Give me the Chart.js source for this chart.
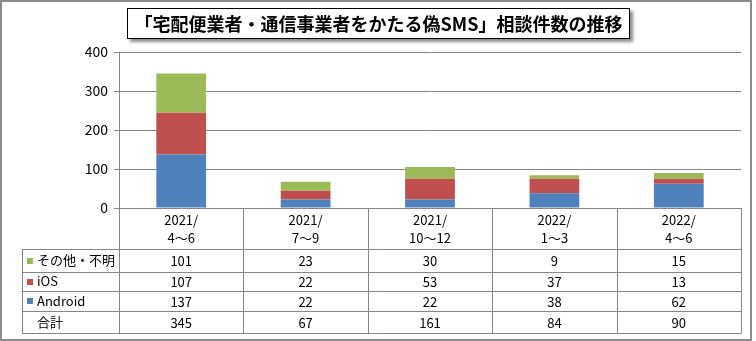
<!DOCTYPE html>
<html>
<head>
<meta charset="utf-8">
<script src="https://cdn.jsdelivr.net/npm/chart.js@4.4.0/dist/chart.umd.min.js"></script>
<style>
  html, body { margin: 0; padding: 0; background: #fff; }
  #wrap { position: relative; width: 756px; height: 341px; }
  #title {
    position: absolute; left: 127px; top: 8px; width: 501px; height: 29px;
    border: 1px solid #000; background: #fff;
    box-shadow: 3px 3px 3px rgba(0, 0, 0, 0.45);
    font: bold 18px "Noto Sans CJK JP", sans-serif;
    line-height: 29px; text-align: center; color: #000; white-space: nowrap;
  }
</style>
</head>
<body>
<div id="wrap">
  <canvas id="smsChart" width="756" height="341"></canvas>
  <div id="title">「宅配便業者・通信事業者をかたる偽SMS」相談件数の推移</div>
</div>
<script>
// 四半期ごとの相談件数
var categories = [["2021/", "4～6"], ["2021/", "7～9"], ["2021/", "10～12"], ["2022/", "1～3"], ["2022/", "4～6"]];
var android = [137, 22, 22, 38, 62];
var ios = [107, 22, 53, 37, 13];
var other = [101, 23, 30, 9, 15];
var totals = [345, 67, 161, 84, 90];
var yTicks = [0, 100, 200, 300, 400];

var FONT = '"Noto Sans CJK JP", sans-serif';
var LINE = '#868686';

// グラフ下のデータ表と外枠
var dataTable = {
    id: 'dataTable',
    afterDraw: function (chart) {
        var ctx = chart.ctx;
        var area = chart.chartArea;
        var xs = chart.scales.x;
        var n = categories.length;
        var colW = (area.right - area.left) / n;
        var top = area.bottom;
        var rows = [top + 41, top + 64, top + 83, top + 103, top + 125];
        var labelLeft = 22;

        ctx.save();
        ctx.strokeStyle = LINE;
        ctx.lineWidth = 1;
        ctx.beginPath();
        for (var i = 0; i <= n; i++) {
            var px = Math.round(area.left + i * colW) + 0.5;
            ctx.moveTo(px, top);
            ctx.lineTo(px, rows[4]);
        }
        ctx.moveTo(labelLeft + 0.5, rows[0]);
        ctx.lineTo(labelLeft + 0.5, rows[4] + 0.5);
        rows.forEach(function (y) {
            ctx.moveTo(labelLeft, y + 0.5);
            ctx.lineTo(area.right + 0.5, y + 0.5);
        });
        ctx.stroke();

        ctx.fillStyle = '#000';
        ctx.textAlign = 'center';
        ctx.textBaseline = 'middle';
        ctx.font = '13px ' + FONT;
        categories.forEach(function (c, i) {
            var cx = xs.getPixelForValue(i);
            ctx.fillText(c[0], cx, top + 12);
            ctx.fillText(c[1], cx, top + 30);
        });

        // 表の行: 上から その他・不明, iOS, Android, 合計
        var ds = chart.data.datasets;
        var tableRows = [
            { label: ds[2].label, color: ds[2].backgroundColor, values: ds[2].data },
            { label: ds[1].label, color: ds[1].backgroundColor, values: ds[1].data },
            { label: ds[0].label, color: ds[0].backgroundColor, values: ds[0].data },
            { label: '合計', color: null, values: totals }
        ];
        tableRows.forEach(function (r, k) {
            var cy = (rows[k] + rows[k + 1]) / 2 + 1;
            r.values.forEach(function (v, i) {
                ctx.textAlign = 'center';
                ctx.fillText(String(v), xs.getPixelForValue(i), cy);
            });
            if (r.color) {
                ctx.fillStyle = r.color;
                ctx.fillRect(27, Math.round(cy) - 4, 6, 6);
                ctx.fillStyle = '#000';
            }
            ctx.textAlign = 'left';
            ctx.fillText(r.label, 37, cy - 1);
        });

        ctx.strokeStyle = '#8c8c8c';
        ctx.lineWidth = 2;
        ctx.strokeRect(1, 1, 750, 339);
        ctx.restore();
    }
};

new Chart(document.getElementById('smsChart'), {
    type: 'bar',
    data: {
        labels: categories,
        datasets: [
            { label: 'Android', data: android, backgroundColor: '#4F81BD' },
            { label: 'iOS', data: ios, backgroundColor: '#C0504D' },
            { label: 'その他・不明', data: other, backgroundColor: '#9BBB59' }
        ]
    },
    options: {
        responsive: false,
        animation: false,
        layout: { padding: { left: 0, right: 15, top: 52, bottom: 0 } },
        datasets: { bar: { categoryPercentage: 1.0, barPercentage: 0.4 } },
        plugins: {
            legend: { display: false },
            title: { display: false },
            tooltip: { enabled: false }
        },
        scales: {
            x: {
                stacked: true,
                grid: { display: false },
                border: { display: false },
                ticks: { display: false },
                afterFit: function (scale) { scale.height = 133; }
            },
            y: {
                stacked: true,
                min: 0,
                max: 400,
                afterBuildTicks: function (scale) {
                    scale.ticks = yTicks.map(function (v) { return { value: v }; });
                },
                grid: { color: LINE, tickLength: 5, tickColor: LINE },
                border: { color: LINE },
                ticks: { color: '#000', padding: 6, font: { family: FONT, size: 14 } },
                afterFit: function (scale) { scale.width = 119; }
            }
        }
    },
    plugins: [dataTable]
});
</script>
</body>
</html>
